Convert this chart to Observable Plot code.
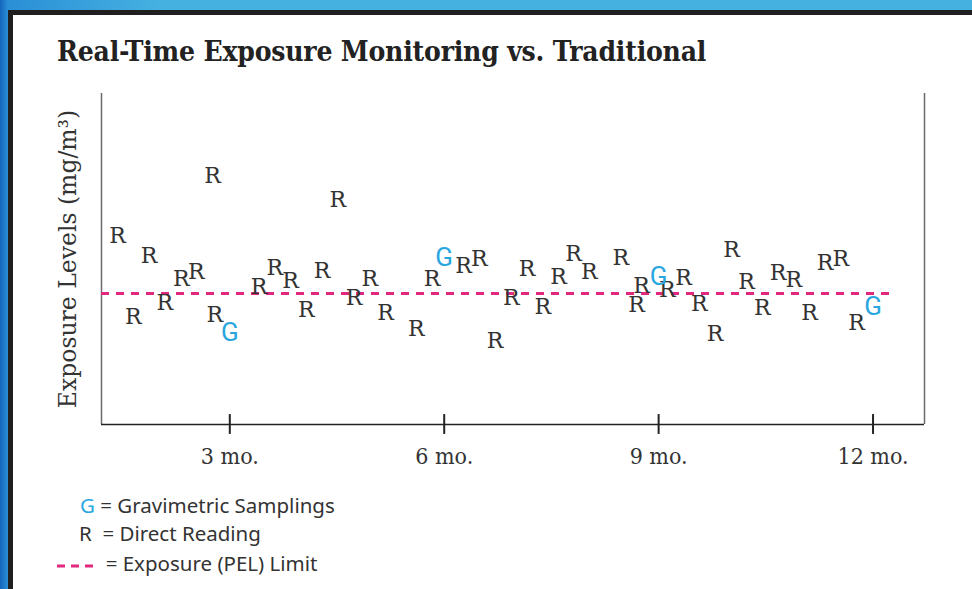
<!DOCTYPE html>
<html>
<head>
<meta charset="utf-8">
<script src="https://cdn.jsdelivr.net/npm/d3@7"></script>
<script src="https://cdn.jsdelivr.net/npm/@observablehq/plot@0.6"></script>
<style>
  html, body { margin: 0; padding: 0; }
  body {
    width: 972px; height: 589px; overflow: hidden; position: relative;
    background: linear-gradient(90deg, #1465bd 0px, #2a8fd6 8px, #45b1e1 160px, #45b1e1 100%);
  }
  #card {
    position: absolute; left: 8px; top: 10px; width: 980px; height: 600px;
    border-left: 5px solid #1f1f1f; border-top: 5px solid #1f1f1f;
    background: #fff;
  }
  #title {
    position: absolute; left: 57px; top: 35px; margin: 0;
    font-family: "DejaVu Serif Condensed", "DejaVu Serif", serif; font-weight: bold;
    font-size: 28px; color: #222; white-space: nowrap; letter-spacing: -0.2px; line-height: 1.2;
  }
  #chart { position: absolute; left: 0; top: 0; }
  #chart svg { overflow: visible; background: transparent; }
  .leg {
    position: absolute; font-family: "Noto Sans", sans-serif; font-size: 20.5px;
    color: #333; white-space: nowrap; line-height: 1;
  }
</style>
</head>
<body>
<div id="card"></div>
<h2 id="title">Real-Time Exposure Monitoring vs. Traditional</h2>
<div id="chart"></div>
<div class="leg" style="left:80px; top:495px;"><span style="color:#2aa6df">G</span> = Gravimetric Samplings</div>
<div class="leg" style="left:79px; top:523px;">R&nbsp; = Direct Reading</div>
<div class="leg" style="left:57px; top:553px;"><svg width="38" height="12" style="vertical-align:middle"><line x1="0" y1="6" x2="38" y2="6" stroke="#e0287f" stroke-width="3" stroke-dasharray="8,6"/></svg>&nbsp; = Exposure (PEL) Limit</div>
<script>
// Direct readings (months, mg/m³)
const readingMonths = [1.43, 1.65, 1.87, 2.09, 2.32, 2.53, 2.76, 2.79, 3.41, 3.63, 3.85, 4.07, 4.29, 4.51, 4.74, 4.96, 5.18, 5.61, 5.83, 6.27, 6.49, 6.71, 6.94, 7.16, 7.38, 7.60, 7.81, 8.03, 8.47, 8.69, 8.76, 9.12, 9.35, 9.57, 9.79, 10.02, 10.23, 10.45, 10.67, 10.89, 11.11, 11.33, 11.55, 11.77];
const readingValues = [5.71, 3.25, 5.08, 3.67, 4.40, 4.60, 7.50, 3.32, 4.15, 4.74, 4.33, 3.47, 4.64, 6.77, 3.82, 4.40, 3.38, 2.88, 4.39, 4.79, 4.99, 2.52, 3.82, 4.69, 3.55, 4.46, 5.14, 4.61, 5.03, 3.60, 4.18, 4.05, 4.43, 3.63, 2.75, 5.28, 4.30, 3.53, 4.58, 4.38, 3.38, 4.89, 5.00, 3.08];
// Gravimetric samplings
const gravMonths = [3, 6, 9, 12];
const gravValues = [2.77, 5.04, 4.46, 3.55];
// PEL limit
const pelLimit = 3.96;
const pelEnd = 12.245;
const monthTicks = [3, 6, 9, 12];
const xDomain = [1.205, 12.72];
const yDomain = [0, 10];
const yLabel = "Exposure Levels (mg/m³)";

const readings = readingMonths.map((m, i) => ({month: m, value: readingValues[i]}));
const grav = gravMonths.map((m, i) => ({month: m, value: gravValues[i]}));

const slab = "'DejaVu Serif', serif";

const chart = Plot.plot({
  width: 972,
  height: 480,
  marginTop: 93,
  marginLeft: 101,
  marginRight: 48,
  marginBottom: 56,
  style: {background: "transparent", overflow: "visible"},
  x: {domain: xDomain},
  y: {domain: yDomain, axis: null},
  marks: [
    Plot.ruleX(xDomain, {stroke: "#6a6a6a", strokeWidth: 1.5}),
    Plot.ruleY([0], {stroke: "#222", strokeWidth: 1.5}),
    Plot.ruleX(monthTicks, {y1: -0.3, y2: 0.3, stroke: "#222", strokeWidth: 2}),
    Plot.axisX({ticks: monthTicks, tickFormat: d => d + " mo.", tickSize: 0, tickPadding: 23, label: null,
      fontSize: 23, fontFamily: "'DejaVu Serif Condensed', serif", fill: "#333"}),
    Plot.ruleY([pelLimit], {x1: xDomain[0], x2: pelEnd, stroke: "#e0287f", strokeWidth: 3, strokeDasharray: "8,7"}),
    Plot.text([yLabel], {frameAnchor: "left", text: d => d, rotate: -90, dx: -33, textAnchor: "middle",
      fontSize: 23.5, fontFamily: slab, fill: "#333"}),
    Plot.text(readings, {x: "month", y: "value", text: () => "R", fontSize: 22, fontFamily: slab, fill: "#333"}),
    Plot.text(grav, {x: "month", y: "value", text: () => "G", fontSize: 26,
      fontFamily: "'Liberation Sans Narrow', 'Roboto', sans-serif", fill: "#2aa6df"})
  ]
});
document.getElementById("chart").appendChild(chart);
</script>
</body>
</html>
